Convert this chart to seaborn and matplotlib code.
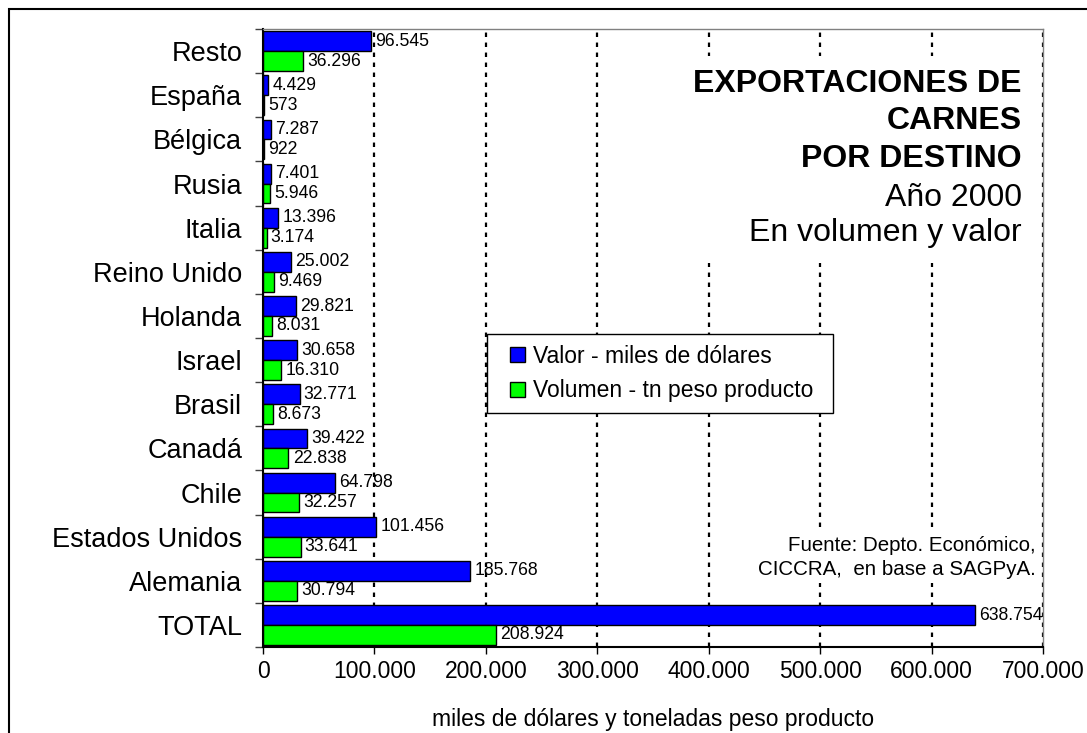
import pandas as pd
import matplotlib
matplotlib.use('Agg')
import matplotlib.pyplot as plt
import seaborn as sns
from matplotlib.patches import Patch, Rectangle
from matplotlib.ticker import FuncFormatter, FixedLocator

destinos = ["Resto", "España", "Bélgica", "Rusia", "Italia", "Reino Unido", "Holanda",
            "Israel", "Brasil", "Canadá", "Chile", "Estados Unidos", "Alemania", "TOTAL"]
valor = [96545, 4429, 7287, 7401, 13396, 25002, 29821, 30658, 32771, 39422, 64798,
         101456, 185768, 638754]
volumen = [36296, 573, 922, 5946, 3174, 9469, 8031, 16310, 8673, 22838, 32257,
           33641, 30794, 208924]
series = ["Valor - miles de dólares", "Volumen - tn peso producto"]
colores = ["#0000FF", "#00FF00"]

df = pd.DataFrame({
    "destino": destinos * 2,
    "monto": valor + volumen,
    "serie": [series[0]] * len(destinos) + [series[1]] * len(destinos),
})


def miles(v):
    return f"{int(round(v)):,}".replace(",", ".")


sns.set_theme(style="white")
plt.rcParams['font.family'] = ['Liberation Sans', 'DejaVu Sans']
for k in ['text.color', 'axes.labelcolor', 'xtick.color', 'ytick.color']:
    plt.rcParams[k] = 'black'

fig = plt.figure(figsize=(10.87, 7.33), dpi=100)
ax = fig.add_axes([0.2420, 0.1173, 0.7175, 0.8431])

sns.barplot(data=df, y="destino", x="monto", hue="serie", order=destinos,
            hue_order=series, palette=colores, orient="h", width=0.9,
            edgecolor="black", linewidth=1, saturation=1, legend=False, ax=ax)

for cont in ax.containers:
    ax.bar_label(cont, labels=[miles(b.get_width()) for b in cont],
                 padding=3, fontsize=12.7, color="black")

ax.set_xlim(0, 700000)
ax.set_ylim(len(destinos) - 0.5, -0.5)
ax.xaxis.set_major_locator(FixedLocator(range(0, 700001, 100000)))
ax.xaxis.set_major_formatter(FuncFormatter(lambda v, p: miles(v)))
ax.set_axisbelow(True)
ax.grid(axis="x", color="black", linestyle=(0, (2, 2.5)), linewidth=1.6)
ax.grid(axis="y", visible=False)

ax.tick_params(axis="x", direction="out", length=5, width=1, color="black",
               labelsize=16.5, pad=4, bottom=True)
ax.tick_params(axis="y", which="major", length=0, labelsize=19.5, pad=15)
ax.yaxis.set_minor_locator(FixedLocator([i - 0.5 for i in range(len(destinos) + 1)]))
ax.tick_params(axis="y", which="minor", left=True, direction="out", length=6,
               width=1, color="#404040")
ax.set_ylabel("")
ax.set_xlabel("miles de dólares y toneladas peso producto", fontsize=16.5, labelpad=18)

for s in ["top", "right"]:
    ax.spines[s].set_color("#808080")
    ax.spines[s].set_linewidth(1)
for s in ["left", "bottom"]:
    ax.spines[s].set_color("black")
    ax.spines[s].set_linewidth(1.5)

# white panels behind title and source
ax.add_patch(Rectangle((0.50, 0.622), 0.485, 0.334, transform=ax.transAxes,
                       facecolor="white", edgecolor="none", zorder=1.5))
ax.add_patch(Rectangle((0.632, 0.104), 0.362, 0.085, transform=ax.transAxes,
                       facecolor="white", edgecolor="none", zorder=1.5))

titulo = [("EXPORTACIONES DE", "bold", 0.9110), ("CARNES", "bold", 0.8510),
          ("POR DESTINO", "bold", 0.7895), ("Año 2000", "normal", 0.7264),
          ("En volumen y valor", "normal", 0.6698)]
for txt, w, yy in titulo:
    ax.text(0.973, yy, txt, transform=ax.transAxes, ha="right", va="center",
            fontsize=23, fontweight=w, zorder=3)

ax.text(0.991, 0.1650, "Fuente: Depto. Económico,", transform=ax.transAxes,
        ha="right", va="center", fontsize=14.8, zorder=3)
ax.text(0.991, 0.1260, "CICCRA,  en base a SAGPyA.", transform=ax.transAxes,
        ha="right", va="center", fontsize=14.8, zorder=3)

# legend box
ax.add_patch(Rectangle((0.2872, 0.3786), 0.4436, 0.1279, transform=ax.transAxes,
                       facecolor="white", edgecolor="black", linewidth=1, zorder=3.5))
handles = [Patch(facecolor=c, edgecolor="black", linewidth=1) for c in colores]
leg = ax.legend(handles, series, loc="center left", bbox_to_anchor=(0.3167, 0.4426),
                fontsize=16.5, frameon=False, handlelength=0.65, handleheight=0.65,
                handletextpad=0.35, labelspacing=0.5, borderpad=0,
                borderaxespad=0)
leg.set_zorder(4)

fig.add_artist(Rectangle((9 / 1087, -0.1), 1.2, 1 - 9 / 733 + 0.1,
                         transform=fig.transFigure, facecolor="none",
                         edgecolor="black", linewidth=1.5))

fig.savefig("out.png", dpi=100)
